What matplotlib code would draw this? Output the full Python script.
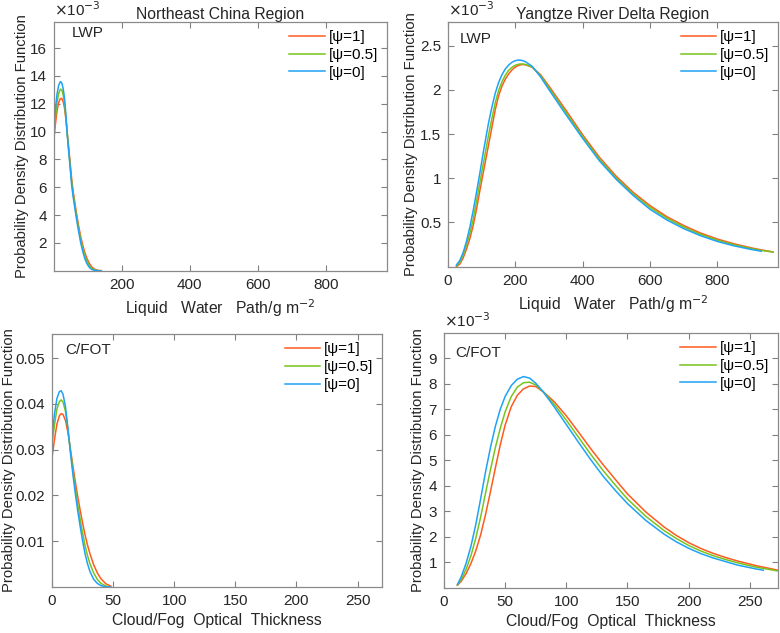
import numpy as np
import matplotlib.pyplot as plt
from matplotlib.ticker import FuncFormatter

plt.rcParams['font.family'] = ['Liberation Sans', 'DejaVu Sans']
plt.rcParams['font.size'] = 11

labels = ['[ψ=1]', '[ψ=0.5]', '[ψ=0]']
colors = ['#FF5A1F', '#78C41E', '#1FA2F5']

# Northeast China, LWP (pdf in 1e-3)
ne_lwp_x = [1, 5, 10, 15, 20, 24, 28, 32, 36, 40, 44, 48, 53, 58, 63, 68, 74, 80, 86, 92, 98, 105, 112, 120, 130, 140]
ne_lwp_psi1 = [9.5, 10.5, 11.5, 12.1, 12.38, 12.38, 12.15, 11.7, 10.9, 9.9, 8.9, 7.9, 6.6, 5.6, 4.8, 4.0, 3.15, 2.4, 1.8, 1.28, 0.88, 0.52, 0.28, 0.12, 0.03, 0.0]
ne_lwp_psi05 = [9.9, 11.0, 12.1, 12.75, 13.05, 13.0, 12.65, 12.05, 11.05, 9.85, 8.75, 7.7, 6.35, 5.4, 4.6, 3.8, 2.95, 2.18, 1.57, 1.05, 0.68, 0.37, 0.17, 0.07, 0.01, 0.0]
ne_lwp_psi0 = [10.3, 11.6, 12.7, 13.35, 13.6, 13.5, 13.1, 12.4, 11.2, 9.8, 8.65, 7.55, 6.15, 5.2, 4.4, 3.6, 2.75, 1.96, 1.35, 0.85, 0.5, 0.24, 0.09, 0.03, 0.0, 0.0]

# Yangtze River Delta, LWP (pdf in 1e-3)
yrd_lwp_x = [25, 35, 45, 55, 65, 75, 85, 95, 105, 120, 130, 140, 150, 160, 170, 180, 190, 200, 210, 220, 230,
             250, 275, 300, 350, 400, 450, 500, 550, 600, 650, 700, 750, 800, 850, 900, 930, 965]
yrd_lwp_psi1 = [0.0, 0.03, 0.1, 0.2, 0.32, 0.47, 0.66, 0.87, 1.07, 1.37, 1.57, 1.77, 1.93, 2.04, 2.12, 2.18, 2.225, 2.258, 2.277, 2.286, 2.283,
                2.255, 2.17, 2.04, 1.77, 1.49, 1.235, 1.02, 0.84, 0.69, 0.565, 0.465, 0.38, 0.312, 0.258, 0.213, 0.19, 0.167]
yrd_lwp_psi05 = [0.01, 0.05, 0.13, 0.245, 0.38, 0.54, 0.745, 0.96, 1.17, 1.48, 1.67, 1.85, 1.99, 2.09, 2.165, 2.22, 2.255, 2.278, 2.29, 2.292, 2.287,
                 2.258, 2.16, 2.02, 1.745, 1.47, 1.215, 1.0, 0.822, 0.67, 0.548, 0.448, 0.365, 0.299, 0.247, 0.205, 0.184, 0.165]
yrd_lwp_psi0 = [0.02, 0.07, 0.16, 0.29, 0.45, 0.64, 0.85, 1.07, 1.3, 1.62, 1.8, 1.96, 2.08, 2.17, 2.235, 2.28, 2.312, 2.33, 2.337, 2.332, 2.317,
                2.265, 2.145, 2.0, 1.72, 1.45, 1.195, 0.985, 0.805, 0.648, 0.528, 0.43, 0.35, 0.285, 0.235, 0.195, 0.175, np.nan]

# Northeast China, C/FOT
ne_cot_x = [0.3, 2, 4, 6, 7.5, 9, 11, 13, 15, 17, 19, 21, 23, 25, 27, 29, 31, 34, 37, 40, 44, 48]
ne_cot_psi1 = [0.0289, 0.0322, 0.0356, 0.0374, 0.0379, 0.0377, 0.0364, 0.0338, 0.0302, 0.0266, 0.0231, 0.0198, 0.0168, 0.014, 0.0114, 0.0092, 0.0073, 0.0049, 0.0031, 0.0018, 0.0007, 0.0002]
ne_cot_psi05 = [0.0318, 0.0354, 0.0389, 0.0405, 0.0409, 0.0404, 0.0384, 0.0345, 0.0299, 0.0256, 0.0217, 0.0181, 0.0148, 0.0118, 0.0091, 0.0069, 0.0051, 0.0031, 0.0017, 0.0008, 0.0002, 0.0]
ne_cot_psi0 = [0.0336, 0.0378, 0.0412, 0.0427, 0.0429, 0.0421, 0.0394, 0.0347, 0.0295, 0.0248, 0.0205, 0.0167, 0.0133, 0.0101, 0.0073, 0.0051, 0.0034, 0.0017, 0.0008, 0.0003, 0.00005, 0.0]

# Yangtze River Delta, C/FOT (pdf in 1e-3)
yrd_cot_x = [11, 14, 18, 22, 26, 30, 34, 38, 42, 46, 50, 55, 60, 65, 70, 75, 81, 90, 100, 110, 120, 130, 140, 150,
             165, 180, 190, 200, 210, 220, 230, 240, 255, 261, 273]
yrd_cot_psi1 = [0.1, 0.25, 0.55, 0.95, 1.45, 2.08, 2.88, 3.77, 4.7, 5.6, 6.38, 7.1, 7.55, 7.8, 7.91, 7.89, 7.69, 7.3, 6.74, 6.1, 5.45, 4.83, 4.25, 3.68,
                2.97, 2.38, 2.05, 1.77, 1.54, 1.35, 1.19, 1.05, 0.87, 0.81, 0.69]
yrd_cot_psi05 = [0.11, 0.32, 0.72, 1.25, 1.95, 2.78, 3.72, 4.63, 5.5, 6.25, 6.9, 7.5, 7.87, 8.04, 8.06, 7.95, 7.69, 7.2, 6.57, 5.9, 5.23, 4.6, 4.03, 3.48,
                 2.8, 2.24, 1.93, 1.66, 1.44, 1.26, 1.11, 0.98, 0.81, 0.76, 0.66]
yrd_cot_psi0 = [0.13, 0.42, 0.95, 1.62, 2.48, 3.5, 4.55, 5.5, 6.33, 7.0, 7.5, 7.93, 8.18, 8.28, 8.22, 8.02, 7.69, 7.1, 6.4, 5.7, 5.02, 4.38, 3.82, 3.3,
                2.64, 2.1, 1.8, 1.55, 1.34, 1.17, 1.03, 0.89, 0.74, 0.69, np.nan]

ylab = 'Probability Density Distribution Function'
lwp_lab = 'Liquid   Water   Path/g m$^{-2}$'
cot_lab = 'Cloud/Fog  Optical  Thickness'

fig = plt.figure(figsize=(7.8, 6.33), dpi=100)

panels = [
    dict(rect=[0.0692, 0.5723, 0.4269, 0.3934], x=ne_lwp_x, ys=[ne_lwp_psi1, ne_lwp_psi05, ne_lwp_psi0], scale=1e-3,
         xlim=(1, 980), ylim=(0, 0.0179), xt=[200, 400, 600, 800], yt=[2, 4, 6, 8, 10, 12, 14, 16],
         tag='LWP', tagpos=(0.053, 0.955), xl=lwp_lab, title='Northeast China Region', ylx=-0.075),
    dict(rect=[0.5744, 0.5787, 0.4231, 0.3870], x=yrd_lwp_x, ys=[yrd_lwp_psi1, yrd_lwp_psi05, yrd_lwp_psi0], scale=1e-3,
         xlim=(0, 980), ylim=(0, 0.00277), xt=[0, 200, 400, 600, 800], yt=[0.5, 1, 1.5, 2, 2.5],
         tag='LWP', tagpos=(0.036, 0.93), xl=lwp_lab, title='Yangtze River Delta Region', ylx=-0.09),
    dict(rect=[0.0667, 0.0727, 0.4231, 0.3997], x=ne_cot_x, ys=[ne_cot_psi1, ne_cot_psi05, ne_cot_psi0], scale=1,
         xlim=(0, 270), ylim=(0, 0.0553), xt=[0, 50, 100, 150, 200, 250], yt=[0.01, 0.02, 0.03, 0.04, 0.05],
         tag='C/FOT', tagpos=(0.039, 0.937), xl=cot_lab, title=None, ylx=-0.11),
    dict(rect=[0.5692, 0.0714, 0.4282, 0.4030], x=yrd_cot_x, ys=[yrd_cot_psi1, yrd_cot_psi05, yrd_cot_psi0], scale=1e-3,
         xlim=(0, 273), ylim=(0, 0.0100), xt=[0, 50, 100, 150, 200, 250], yt=[1, 2, 3, 4, 5, 6, 7, 8, 9],
         tag='C/FOT', tagpos=(0.033, 0.92), xl=cot_lab, title=None, ylx=-0.058),
]

for p in panels:
    ax = fig.add_axes(p['rect'])
    for y, c, lab in zip(p['ys'], colors, labels):
        ax.plot(p['x'], np.array(y) * p['scale'], color=c, lw=1.1, label=lab)
    ax.set_xlim(p['xlim'])
    ax.set_ylim(p['ylim'])
    ax.set_xticks(p['xt'])
    s = p['scale']
    ax.set_yticks([v * s for v in p['yt']])
    if s != 1:
        ax.yaxis.set_major_formatter(FuncFormatter(lambda v, pos, s=s: f'{v / s:g}'))
        ax.text(0.0, 1.012, r'$\times$10$^{-3}$', transform=ax.transAxes, ha='left', va='bottom', color='#262626')
    else:
        ax.yaxis.set_major_formatter(FuncFormatter(lambda v, pos: f'{v:g}'))
    ax.tick_params(direction='in', length=4, top=True, right=True, labelsize=11,
                   color='#808080', labelcolor='#262626', pad=5)
    for sp in ax.spines.values():
        sp.set_color('#8a8a8a')
        sp.set_linewidth(0.9)
    ax.set_xlabel(p['xl'], fontsize=11.3, color='#262626', labelpad=4)
    ax.set_ylabel(ylab, fontsize=10.7, color='#262626')
    ax.yaxis.set_label_coords(p['ylx'], 0.5)
    ax.text(p['tagpos'][0], p['tagpos'][1], p['tag'], transform=ax.transAxes, ha='left', va='center',
            fontsize=11, color='#262626')
    if p['title']:
        ax.set_title(p['title'], fontsize=11.3, color='#262626', pad=2)
    ax.legend(loc='upper right', frameon=False, fontsize=11, handlelength=2.3, handletextpad=0.3,
              labelspacing=0.25, borderaxespad=0.15)

fig.savefig('out.png', dpi=100)
